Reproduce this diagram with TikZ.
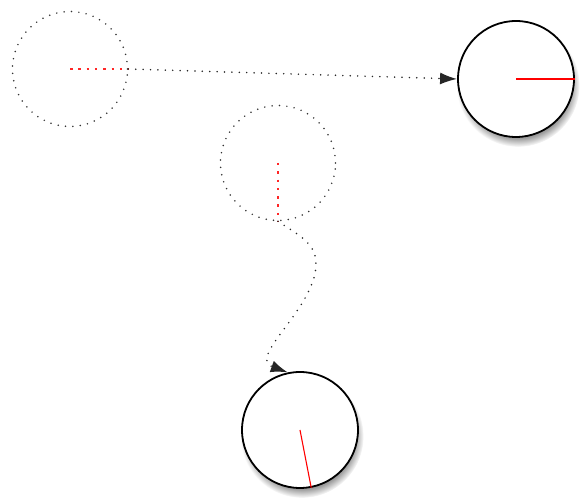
\documentclass[tikz,border=0pt]{standalone}
\usetikzlibrary{arrows.meta,shadows}

\begin{document}
\begin{tikzpicture}[x=1pt,y=1pt,
			ghost/.style={circle, draw=black!80, line width=1.7pt, line cap=round,
				dash pattern=on 0pt off 7.4pt, inner sep=0pt, minimum size=115pt},
			ball/.style={circle, draw=black, line width=1.8pt, fill=white,
				inner sep=0pt, minimum size=116pt,
				circular drop shadow={shadow xshift=2pt, shadow yshift=-6pt, shadow scale=1.06, opacity=0.8}},
			ghostline/.style={red!85, line width=1.4pt, dash pattern=on 2.5pt off 5.8pt},
			ballline/.style={red, line width=1.1pt},
			moveto/.style={-{Latex[length=17pt,width=12pt]}, black!85, line width=1.7pt,
				line cap=round, dash pattern=on 0pt off 7.4pt}
		]
			\useasboundingbox (0,0) rectangle (582,500);
			\node[ghost] (ghostA) at (70,431) {};
			\node[ghost] (ghostB) at (278,337) {};
			\node[ball] (ballA) at (516,421) {};
			\node[ball] (ballB) at (300,70) {};
			\coordinate (bend) at (316,236);
			\draw[ghostline] (ghostA.center) -- (ghostA.east);
			\draw[ghostline] (ghostB.center) -- (ghostB.south);
			\draw[ballline] (ballA.center) -- (ballA.east);
			\draw[ballline] (ballB.center) -- (ballB.-79);
			\draw[moveto] (ghostA.east) -- (ballA.west);
			\draw[moveto] (ghostB.south) to[out=-35,in=90] (bend) to[out=-90,in=160] (ballB.102);
		\end{tikzpicture}
\end{document}
